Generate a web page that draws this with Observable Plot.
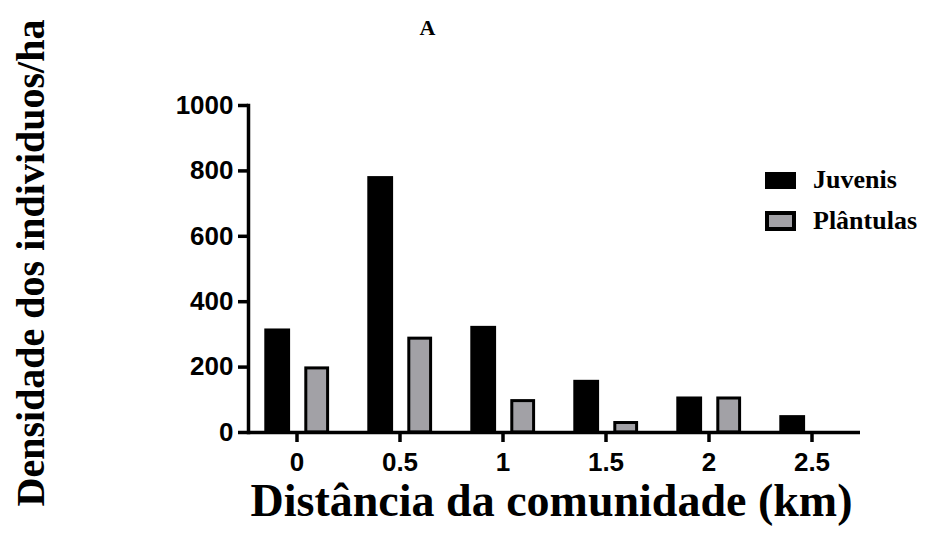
<!DOCTYPE html>
<html>
<head>
<meta charset="utf-8">
<script src="https://cdn.jsdelivr.net/npm/d3@7"></script>
<script src="https://cdn.jsdelivr.net/npm/@observablehq/plot@0.6"></script>
<style>
  html, body { margin: 0; padding: 0; background: #fff; }
  #wrap { position: relative; width: 925px; height: 543px; }
  .leg { position: absolute; left: 765px; display: flex; align-items: center;
         font-family: "Liberation Serif", "Times New Roman", serif; font-weight: bold; font-size: 26px; color: #000; }
  .sw { box-sizing: border-box; width: 31px; margin-right: 17px; }
</style>
</head>
<body>
<div id="wrap"></div>
<script>
const distances = ["0", "0.5", "1", "1.5", "2", "2.5"];
const juvenis   = [312, 778, 320, 155, 104, 47];
const plantulas = [196, 287, 96, 29, 104, 0];
const yTicks    = [0, 200, 400, 600, 800, 1000];
const seriesNames = ["Juvenis", "Plântulas"];
const title  = "A";
const xTitle = "Distância da comunidade (km)";
const yTitle = "Densidade dos individuos/ha";

const juvData = distances.map((d, i) => ({d, v: juvenis[i]}));
const plaData = distances.map((d, i) => ({d, v: plantulas[i]}));

const serif = "'Liberation Serif', 'Times New Roman', serif";

const chart = Plot.plot({
  width: 925,
  height: 543,
  marginLeft: 248,
  marginRight: 65,
  marginTop: 105,
  marginBottom: 111,
  x: {domain: distances, range: [244, 863], padding: 0, label: null},
  y: {domain: [0, 1000], label: null},
  style: {fontFamily: "'Liberation Sans', Arial, sans-serif", fontWeight: "bold", fontSize: "26px", color: "#000", background: "#fff"},
  marks: [
    Plot.barY(juvData, {x: "d", y: "v", fill: "#000", stroke: "#000", strokeWidth: 3, insetLeft: 20.8, insetRight: 59.4}),
    Plot.barY(plaData.filter(r => r.v > 0), {x: "d", y: "v", fill: "#a2a1a6", stroke: "#000", strokeWidth: 3, insetLeft: 60.8, insetRight: 20.4}),
    Plot.ruleY([0], {stroke: "#000", strokeWidth: 3.5}),
    Plot.frame({anchor: "left", stroke: "#000", strokeWidth: 3.5}),
    Plot.axisY({ticks: yTicks, tickFormat: d3.format("d"), tickSize: 10, tickPadding: 5, strokeWidth: 3.5, fontSize: 26, fontWeight: "bold", label: null}),
    Plot.axisX({tickSize: 10, tickPadding: 10, strokeWidth: 3.5, fontSize: 26, fontWeight: "bold", label: null}),
    Plot.text([yTitle], {frameAnchor: "left", textAnchor: "middle", lineAnchor: "middle", rotate: -90, dx: -217, dy: -6, fontFamily: serif, fontSize: 40, fontWeight: "bold", fill: "#000"}),
    Plot.text([xTitle], {frameAnchor: "bottom", lineAnchor: "middle", dx: -3, dy: 69, fontFamily: serif, fontSize: 46, fontWeight: "bold", fill: "#000"}),
    Plot.text([title], {frameAnchor: "top", lineAnchor: "middle", dx: -127, dy: -78, fontFamily: serif, fontSize: 22, fontWeight: "bold", fill: "#000"})
  ]
});

const wrap = document.getElementById("wrap");
wrap.appendChild(chart);

const legendRows = [
  {name: seriesNames[0], top: 166, h: 28, sw: "height:17px;background:#000;"},
  {name: seriesNames[1], top: 206, h: 30, sw: "height:20px;background:#a2a1a6;border:4px solid #000;"}
];
for (const r of legendRows) {
  const row = document.createElement("div");
  row.className = "leg";
  row.style.top = r.top + "px";
  row.style.height = r.h + "px";
  const sw = document.createElement("div");
  sw.className = "sw";
  sw.style.cssText += r.sw;
  const tx = document.createElement("span");
  tx.textContent = r.name;
  row.appendChild(sw);
  row.appendChild(tx);
  wrap.appendChild(row);
}
</script>
</body>
</html>
